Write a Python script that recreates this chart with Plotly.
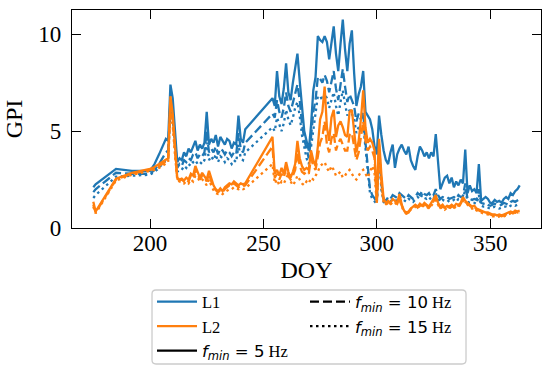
import plotly.graph_objects as go

# Day of year
doy = [175, 176, 185, 192, 200,
       202, 204, 206, 207, 208, 209, 210, 211,
       212, 213, 214, 215, 216, 217, 218, 219, 220, 221, 222, 223, 224, 225, 226, 227,
       228, 229, 230, 231, 232, 233, 234, 235, 236, 237, 238, 239, 240, 241, 242,
       254, 255, 256, 257, 258, 259, 260, 261, 262, 263, 264, 265, 266, 267, 268, 269,
       270, 271, 272, 273, 274, 275, 276, 277, 278, 279, 280, 281, 282, 283, 284, 285,
       286, 287, 288, 289, 290, 291, 292, 293, 294, 295, 296, 297, 298, 299, 300,
       301, 302, 303, 304, 305, 306, 307, 308, 309, 310, 311, 312, 313, 314, 315, 316,
       317, 318, 319, 320, 321, 322, 323, 324, 325, 326, 327, 328, 329, 330, 331, 332,
       333, 334, 335, 336, 337, 338, 339, 340, 341, 342, 343, 344, 345, 346, 347, 348,
       349, 350, 351, 352, 353, 354, 355, 356, 357, 358, 359, 360, 361, 362, 363]

# L1, fmin = 5 Hz
l1_f5 = [2.1, 2.25, 3.05, 2.95, 2.95,
         3.3, 3.8, 4.3, 4.6, 4.5, 7.4, 6.7, 5.0,
         3.4, 3.6, 3.5, 3.9, 3.7, 4.1, 3.9, 4.2, 4.5, 4.0, 4.3, 4.1, 4.4, 6.0, 4.3, 4.6,
         4.4, 4.8, 4.2, 4.7, 4.5, 4.3, 4.6, 4.5, 4.1, 4.4, 4.3, 5.8, 4.6, 4.4, 5.1,
         6.7, 6.3, 8.1, 6.8, 6.4, 7.2, 8.5, 7.0, 6.6, 7.5, 8.3, 9.0, 7.6, 6.1, 5.0, 4.5,
         4.0, 5.3, 7.1, 7.8, 9.9, 9.7, 9.6, 9.9, 9.6, 8.7, 9.5, 10.4, 9.0, 8.1, 9.5, 10.75,
         9.2, 8.1, 9.5, 10.2, 8.0, 6.3, 6.9, 7.3, 8.1, 6.0, 5.8, 5.6, 5.1, 4.2, 3.8,
         5.8, 4.8, 4.0, 3.5, 3.3, 3.9, 4.3, 3.1, 3.8, 4.1, 4.3, 4.0, 3.8, 4.2, 3.5, 3.2,
         3.0, 3.7, 4.2, 4.0, 3.7, 3.9, 3.6, 3.9, 3.7, 4.85, 3.6, 2.0, 2.3, 2.6, 2.7, 2.3,
         2.6, 2.1, 2.4, 2.2, 2.5, 2.3, 4.05, 1.8, 2.2, 1.9, 2.0, 1.8, 3.3, 1.4, 1.5, 1.6,
         1.5, 1.3, 1.3, 1.45, 1.35, 1.4, 1.3, 1.5, 1.6, 1.5, 1.8, 1.7, 1.9, 2.0, 2.2]

# L1, fmin = 10 Hz
l1_f10 = [1.85, 2.0, 2.85, 2.8, 2.8,
          3.0, 3.3, 3.7, 3.9, 4.0, 6.6, 6.0, 4.5,
          3.1, 3.3, 3.2, 3.5, 3.4, 3.6, 3.5, 3.8, 3.9, 3.6, 3.8, 3.7, 3.9, 5.0, 3.9, 4.1,
          3.9, 4.2, 3.8, 4.1, 4.0, 3.8, 4.0, 3.9, 3.7, 3.9, 3.8, 4.9, 4.1, 3.9, 4.4,
          5.9, 5.7, 6.6, 6.0, 5.7, 6.2, 7.0, 6.3, 6.0, 6.5, 7.0, 7.4, 6.6, 5.4, 4.6, 4.0,
          3.6, 4.7, 6.0, 6.6, 7.8, 7.7, 7.5, 7.9, 7.6, 7.0, 7.5, 8.1, 7.2, 6.6, 7.4, 8.2,
          7.3, 6.5, 6.9, 6.6, 6.3, 5.5, 5.9, 5.6, 6.0, 4.4, 3.0, 2.0, 1.7, 1.5, 1.35,
          4.2, 2.3, 1.5, 1.4, 1.6, 1.5, 1.7, 1.6, 1.55, 1.8, 1.7, 1.6, 1.5, 1.7, 1.6, 1.5,
          1.6, 1.8, 1.7, 1.9, 1.75, 1.7, 1.8, 1.6, 1.7, 2.0, 1.7, 1.5, 1.6, 1.55, 1.6, 1.5,
          1.55, 1.6, 1.5, 1.7, 1.6, 1.65, 2.3, 1.5, 1.5, 1.45, 1.5, 1.45, 2.0, 1.3, 1.25, 1.3,
          1.2, 1.15, 1.2, 1.25, 1.2, 1.15, 1.2, 1.3, 1.25, 1.2, 1.35, 1.4, 1.35, 1.45, 1.5]

# L1, fmin = 15 Hz
l1_f15 = [1.55, 1.7, 2.65, 2.7, 2.75,
          2.9, 3.1, 3.4, 3.5, 3.6, 6.2, 5.6, 4.2,
          2.9, 3.0, 3.0, 3.2, 3.1, 3.3, 3.2, 3.4, 3.5, 3.3, 3.4, 3.3, 3.5, 4.4, 3.5, 3.7,
          3.5, 3.8, 3.4, 3.7, 3.6, 3.4, 3.6, 3.5, 3.3, 3.5, 3.4, 4.3, 3.6, 3.5, 3.9,
          5.2, 5.0, 5.7, 5.3, 5.0, 5.4, 6.1, 5.6, 5.3, 5.7, 6.2, 6.5, 5.8, 4.8, 4.1, 3.6,
          3.3, 4.2, 5.3, 5.9, 6.8, 6.8, 6.6, 6.9, 6.7, 6.2, 6.6, 7.0, 6.3, 5.8, 6.5, 7.1,
          6.4, 5.8, 6.1, 5.9, 5.6, 4.9, 5.2, 5.0, 5.3, 4.0, 2.7, 1.8, 1.5, 1.35, 1.25,
          4.0, 2.0, 1.35, 1.25, 1.45, 1.35, 1.5, 1.45, 1.4, 1.6, 1.5, 1.45, 1.35, 1.5, 1.45, 1.35,
          1.45, 1.6, 1.5, 1.7, 1.55, 1.5, 1.6, 1.45, 1.5, 1.8, 1.5, 1.35, 1.45, 1.4, 1.45, 1.35,
          1.4, 1.45, 1.35, 1.5, 1.45, 1.5, 2.0, 1.35, 1.3, 1.3, 1.3, 1.25, 1.7, 1.15, 1.1, 1.1,
          1.05, 1.0, 1.05, 1.1, 1.05, 1.0, 1.05, 1.1, 1.1, 1.05, 1.15, 1.2, 1.15, 1.2, 1.25]

# L2, fmin = 5 Hz
l2_f5 = [1.35, 0.85, 2.55, 2.85, 3.05,
         3.15, 3.3, 3.45, 3.55, 3.6, 6.8, 5.9, 4.3,
         2.6, 2.5, 2.55, 2.45, 2.6, 2.5, 2.8, 2.7, 3.2, 2.9, 2.6, 2.85, 2.7, 2.5, 2.95, 2.5,
         2.2, 2.0, 1.9, 2.05, 1.9, 2.1, 2.2, 2.3, 2.25, 2.4, 2.3, 2.2, 2.3, 2.25, 2.3,
         4.7, 2.8, 3.0, 2.7, 3.1, 2.8, 3.4, 2.9, 2.6, 2.9, 3.3, 4.5, 3.6, 3.2, 3.0, 3.1,
         3.0, 4.0, 3.5, 3.2, 4.2, 5.6, 6.0, 7.3, 5.2, 4.5, 5.7, 6.1, 4.7, 5.3, 5.5, 5.2,
         4.8, 4.7, 6.0, 6.1, 5.0, 3.9, 4.5, 5.6, 7.1, 5.2, 4.4, 4.6, 4.4, 4.0, 1.4,
         4.6, 2.8, 1.5, 1.3, 1.4, 1.3, 1.5, 1.4, 1.3, 1.75, 1.2, 0.9, 0.75, 0.8, 1.0, 1.1,
         1.2, 1.1, 1.25, 1.15, 1.3, 1.2, 1.1, 1.3, 1.5, 1.7, 1.3, 1.1, 1.2, 1.05, 1.15, 1.1,
         1.2, 1.1, 1.25, 1.2, 1.3, 1.6, 1.4, 1.3, 1.2, 1.1, 1.15, 1.0, 0.95, 0.9, 0.85, 0.8,
         0.8, 0.75, 0.7, 0.7, 0.65, 0.7, 0.65, 0.7, 0.75, 0.8, 0.85, 0.8, 0.9, 0.85, 0.9]

# L2, fmin = 10 Hz
l2_f10 = [1.2, 0.8, 2.5, 2.8, 3.0,
          3.05, 3.2, 3.35, 3.45, 3.5, 6.4, 5.6, 4.0,
          2.55, 2.45, 2.5, 2.4, 2.5, 2.4, 2.7, 2.6, 3.0, 2.8, 2.5, 2.7, 2.6, 2.4, 2.8, 2.4,
          2.1, 1.95, 1.85, 1.95, 1.85, 2.0, 2.1, 2.2, 2.15, 2.3, 2.2, 2.1, 2.2, 2.15, 2.2,
          4.2, 2.6, 2.8, 2.5, 2.8, 2.6, 3.1, 2.7, 2.5, 2.7, 3.0, 3.9, 3.2, 2.9, 2.8, 2.9,
          2.8, 3.6, 3.2, 3.0, 3.6, 4.4, 4.7, 5.5, 4.3, 3.9, 4.6, 4.9, 4.0, 4.4, 4.6, 4.3,
          4.0, 4.0, 4.8, 4.9, 4.2, 3.5, 3.9, 4.6, 5.5, 4.5, 4.0, 4.2, 4.0, 3.6, 1.3,
          4.3, 2.4, 1.4, 1.25, 1.35, 1.25, 1.4, 1.35, 1.25, 1.6, 1.15, 0.9, 0.8, 0.85, 1.0, 1.05,
          1.15, 1.05, 1.2, 1.1, 1.25, 1.15, 1.05, 1.2, 1.4, 1.55, 1.25, 1.05, 1.15, 1.0, 1.1, 1.05,
          1.15, 1.05, 1.2, 1.15, 1.25, 1.5, 1.35, 1.25, 1.15, 1.05, 1.1, 0.95, 0.9, 0.85, 0.8, 0.75,
          0.75, 0.7, 0.65, 0.65, 0.6, 0.65, 0.6, 0.65, 0.7, 0.75, 0.8, 0.75, 0.85, 0.8, 0.85]

# L2, fmin = 15 Hz
l2_f15 = [1.1, 0.75, 2.45, 2.75, 2.95,
          3.0, 3.1, 3.25, 3.35, 3.4, 6.0, 5.3, 3.8,
          2.5, 2.4, 2.4, 2.3, 2.4, 2.3, 2.5, 2.4, 2.7, 2.6, 2.4, 2.5, 2.4, 2.2, 2.5, 2.2,
          1.95, 1.8, 1.75, 1.8, 1.75, 1.85, 1.95, 2.0, 2.0, 2.1, 2.05, 2.0, 2.05, 2.0, 2.05,
          3.3, 2.3, 2.5, 2.2, 2.4, 2.3, 2.6, 2.8, 2.4, 2.2, 2.4, 2.7, 2.5, 2.3, 2.2, 2.4,
          2.3, 2.6, 2.5, 2.7, 2.9, 3.2, 3.3, 3.4, 3.1, 2.9, 3.2, 3.0, 2.7, 2.8, 2.9, 2.6,
          2.7, 2.9, 3.0, 2.8, 2.6, 2.5, 2.7, 2.9, 3.0, 2.8, 2.6, 2.9, 3.2, 2.8, 1.3,
          4.0, 2.2, 1.3, 1.2, 1.3, 1.2, 1.35, 1.3, 1.2, 1.5, 1.1, 0.85, 0.75, 0.8, 0.95, 1.0,
          1.1, 1.0, 1.15, 1.05, 1.2, 1.1, 1.0, 1.15, 1.3, 1.45, 1.2, 1.0, 1.1, 0.95, 1.05, 1.0,
          1.1, 1.0, 1.15, 1.1, 1.2, 1.4, 1.3, 1.2, 1.1, 1.0, 1.05, 0.9, 0.85, 0.8, 0.75, 0.7,
          0.7, 0.65, 0.6, 0.6, 0.55, 0.6, 0.55, 0.6, 0.65, 0.7, 0.75, 0.7, 0.8, 0.75, 0.8]

for s in (l1_f5, l1_f10, l1_f15, l2_f5, l2_f10, l2_f15):
    assert len(s) == len(doy), (len(s), len(doy))

SERIF = "Liberation Serif, Times New Roman, serif"
BLUE = "#1f77b4"
ORANGE = "#ff7f0e"
LW = 2.3
DASH = {"solid": "solid", "dash": "9px,4px", "dot": "2.5px,3.5px"}

series = [
    (l1_f5, BLUE, "solid"), (l1_f10, BLUE, "dash"), (l1_f15, BLUE, "dot"),
    (l2_f5, ORANGE, "solid"), (l2_f10, ORANGE, "dash"), (l2_f15, ORANGE, "dot"),
]

fig = go.Figure()
for vals, col, ds in series:
    fig.add_trace(go.Scatter(x=doy, y=vals, mode="lines", showlegend=False,
                             line=dict(color=col, width=LW, dash=DASH[ds]),
                             hoverinfo="skip"))

fm = '<span style="font-family:DejaVu Sans"><i>f</i><sub><i>min</i></sub> = {}</span> Hz'
legend_items = [
    ("L1", BLUE, "solid", "legend"),
    ("L2", ORANGE, "solid", "legend"),
    (fm.format(5), "black", "solid", "legend"),
    (fm.format(10), "black", "dash", "legend2"),
    (fm.format(15), "black", "dot", "legend2"),
]
for name, col, ds, lg in legend_items:
    fig.add_trace(go.Scatter(x=[None], y=[None], mode="lines", name=name, legend=lg,
                             line=dict(color=col, width=LW, dash=DASH[ds])))

axis_common = dict(
    showline=True, linecolor="black", linewidth=1.3, mirror="allticks",
    ticks="inside", ticklen=9, tickwidth=1.3, tickcolor="black",
    showgrid=False, zeroline=False,
    tickfont=dict(family=SERIF, size=23, color="black"),
)

leg_common = dict(xanchor="left", yanchor="top", traceorder="normal",
                  orientation="v", itemwidth=40, borderwidth=0,
                  bgcolor="rgba(0,0,0,0)",
                  font=dict(family=SERIF, size=16.5, color="black"))

# rounded frame around both legend columns (paper coordinates)
bx0, bx1, by0, by1 = 0.1706, 0.8401, -0.6239, -0.2844
rx, ry = 0.0085, 0.018
frame = (f"M{bx0+rx},{by1} L{bx1-rx},{by1} Q{bx1},{by1} {bx1},{by1-ry} "
         f"L{bx1},{by0+ry} Q{bx1},{by0} {bx1-rx},{by0} "
         f"L{bx0+rx},{by0} Q{bx0},{by0} {bx0},{by0+ry} "
         f"L{bx0},{by1-ry} Q{bx0},{by1} {bx0+rx},{by1} Z")

fig.update_layout(
    width=550, height=372,
    margin=dict(l=72, r=9, t=10, b=144, autoexpand=False),
    paper_bgcolor="white", plot_bgcolor="white",
    font=dict(family=SERIF, color="black"),
    xaxis=dict(range=[165.6, 372.4], tickvals=[200, 250, 300, 350],
               ticklabelstandoff=-6,
               title=dict(text="DOY", font=dict(family=SERIF, size=24), standoff=6),
               **axis_common),
    yaxis=dict(range=[0, 11.25], tickvals=[0, 5, 10],
               ticklabelstandoff=5,
               title=dict(text="GPI", font=dict(family=SERIF, size=24), standoff=8),
               **axis_common),
    legend=dict(x=0.1706, y=-0.259, **leg_common),
    legend2=dict(x=0.4968, y=-0.259, **leg_common),
    shapes=[dict(type="path", xref="paper", yref="paper", path=frame,
                 line=dict(color="#cccccc", width=1.3), fillcolor="rgba(0,0,0,0)")],
)

fig.write_html("out.html",
               config={"displayModeBar": False},
               post_script="document.body.style.margin='0';")
